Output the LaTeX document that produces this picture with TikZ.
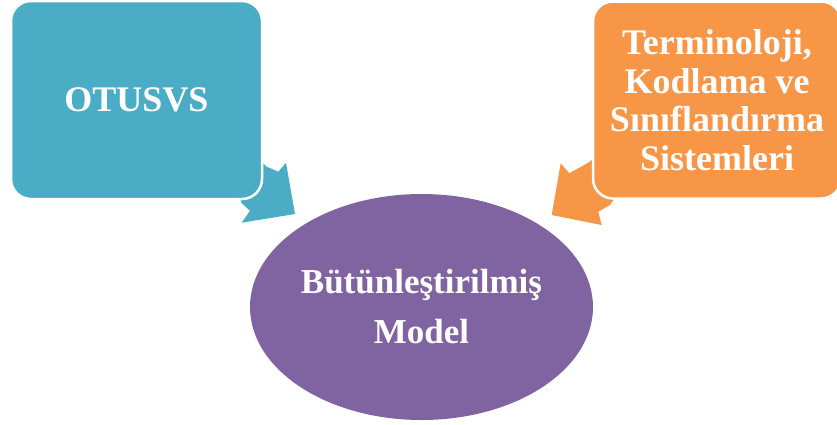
\documentclass[tikz,border=0pt]{standalone}
\usepackage{fontspec}
\setmainfont{Liberation Serif}
\usetikzlibrary{shapes.geometric}
\definecolor{aqua}{HTML}{4BACC6}
\definecolor{tangerine}{HTML}{F79646}
\definecolor{violet}{HTML}{8064A2}
\begin{document}
\begin{tikzpicture}[x=1pt,y=-1pt,
  boxstyle/.style={rectangle, rounded corners=20pt, draw=white, line width=2.5pt,
    text=white, font=\bfseries\fontsize{36}{38.5}\selectfont, align=center, inner sep=0pt},
  ovalstyle/.style={ellipse, fill=violet, draw=none, text=white,
    font=\bfseries\fontsize{35}{50}\selectfont, align=center, inner sep=0pt}]
\useasboundingbox (0,0) rectangle (837,424);
\begin{scope}
\clip (0,0) rectangle (837,424);
% arrow pieces pointing towards the oval (drawn first, boxes cover their tails)
\fill[aqua] (266.7,166.7) -- (278.3,171.7) -- (286,162.7) -- (295,214)
  -- (241.7,222.7) -- (250,210.7) -- (241.7,203.3) -- (235,185) -- (250,150) -- cycle;
\fill[tangerine] (560.7,163.3) -- (569.3,173.3) -- (588.3,162.7) -- (605,150)
  -- (620,190) -- (610,205) -- (598.3,211.7) -- (601.7,225) -- (551.7,215) -- cycle;
% boxes
\node[boxstyle, fill=aqua, minimum width=251pt, minimum height=198pt] (otusvs) at (136.5,100) {OTUSVS};
\node[boxstyle, fill=tangerine, minimum width=248pt, minimum height=197pt] (term) at (717,100)
  {Terminoloji,\\Kodlama ve\\Sınıflandırma\\Sistemleri};
% central model
\node[ovalstyle, minimum width=343pt, minimum height=226pt] (model) at (421.5,307)
  {Bütünleştirilmiş\\Model};
\end{scope}
\end{tikzpicture}
\end{document}
